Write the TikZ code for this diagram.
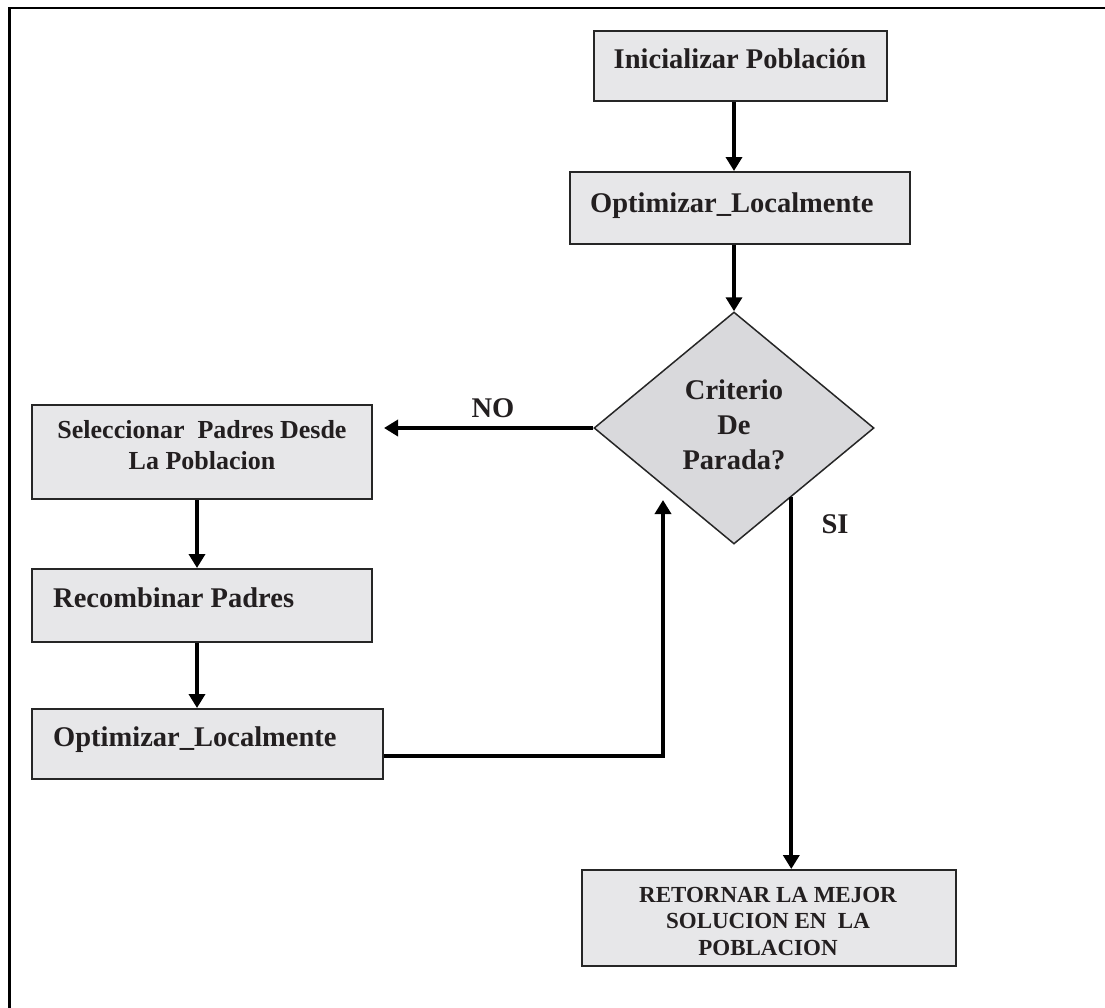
\documentclass[tikz,border=0pt]{standalone}
\usepackage{fontspec}
\setmainfont{Liberation Serif}
\usetikzlibrary{arrows.meta,shapes.geometric,calc}
\definecolor{boxfill}{HTML}{E7E7E9}
\definecolor{decfill}{HTML}{D9D9DC}
\definecolor{ink}{HTML}{231F20}

\begin{document}
\begin{tikzpicture}[x=1pt,y=-1pt,
  stepbox/.style={draw=black!85, line width=2pt, fill=boxfill, rectangle, inner sep=0pt},
  decbox/.style={diamond, aspect=1.207, draw=black!85, line width=1.5pt, fill=decfill, inner sep=0pt},
  txt/.style={text=ink, inner sep=0pt, font=\bfseries\fontsize{28.5}{35}\selectfont},
  txtsel/.style={text=ink, inner sep=0pt, align=center, font=\bfseries\fontsize{26}{31}\selectfont},
  txtret/.style={text=ink, inner sep=0pt, align=center, font=\bfseries\fontsize{23}{26.5}\selectfont},
  flow/.style={line width=4pt, draw=black, -{Triangle[width=16pt,length=14pt]}},
  frame/.style={line width=2.6pt, draw=black}]

\clip (0,0) rectangle (1105,1007);
\fill[white] (0,0) rectangle (1105,1007);

% outer frame
\draw[frame] (9.3,1030) |- (1130,8);

% process boxes
\node[stepbox, minimum width=293pt, minimum height=70pt] (init) at (740.5,66) {};
\node[stepbox, minimum width=340pt, minimum height=72pt] (opt1) at (740,208) {};
\node[decbox, minimum width=280pt, minimum height=232pt] (dec) at (734,428) {};
\node[stepbox, minimum width=340pt, minimum height=94pt] (sel) at (202,452) {};
\node[stepbox, minimum width=340pt, minimum height=73pt] (rec) at (202,605.5) {};
\node[stepbox, minimum width=351pt, minimum height=70pt] (opt2) at (207.5,744) {};
\node[stepbox, minimum width=374pt, minimum height=96pt] (ret) at (769,918) {};

% box texts
\node[txt, anchor=base] (initT) at (740,68) {Inicializar Población};
\node[txt, anchor=base west] (opt1T) at (590,212) {Optimizar\_Localmente};
\node[txt, align=center, anchor=center] (decT) at (734,425) {Criterio\\De\\Parada?};
\node[txtsel, anchor=center] (selT) at (202,445) {Seleccionar\ \ Padres Desde\\La Poblacion};
\node[txt, anchor=base west] (recT) at (53,607) {Recombinar Padres};
\node[txt, anchor=base west] (opt2T) at (53,746) {Optimizar\_Localmente};
\node[txtret, anchor=center] (retT) at (768,921) {RETORNAR LA MEJOR\\SOLUCION EN\ \ LA\\POBLACION};

% branch labels
\node[txt, anchor=base] (noT) at (493,417) {NO};
\node[txt, anchor=base] (siT) at (835,533) {SI};

% connectors
\draw[flow] (init.south -| dec.north) -- (opt1.north -| dec.north);
\draw[flow] (opt1.south -| dec.north) -- (dec.north);
\draw[flow, shorten >=11pt] (dec.west) -- (dec.west -| sel.east);
\draw[flow] ([xshift=-5pt]sel.south) -- ([xshift=-5pt]rec.north);
\draw[flow] ([xshift=-5pt]rec.south) -- ([xshift=-5pt]rec.south |- opt2.north);
\coordinate (loopEnd) at (663,500);
\draw[flow] ([yshift=-12pt]opt2.east) -| (loopEnd);
\coordinate (siTop) at ($(dec.south)!0.407!(dec.east)$);
\draw[flow] (siTop) -- (siTop |- ret.north);
\end{tikzpicture}
\end{document}
